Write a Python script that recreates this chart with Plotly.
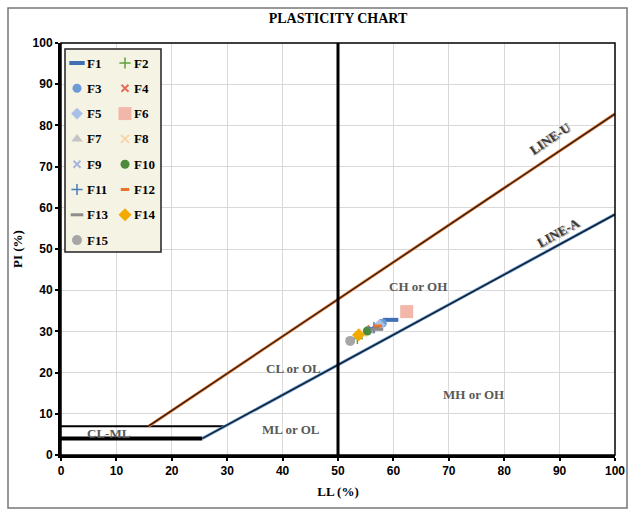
import plotly.graph_objects as go

# ---- data ----
samples = ["F1", "F2", "F3", "F4", "F5", "F6", "F7", "F8", "F9", "F10", "F11", "F12", "F13", "F14", "F15"]
ll_values = [59.5, 53.5, 58.0, 56.0, 57.5, 62.4, 57.3, 54.5, 55.8, 55.3, 56.5, 57.2, 57.0, 53.7, 52.2]
pi_values = [32.8, 28.3, 32.0, 30.6, 31.6, 34.8, 31.0, 29.7, 30.4, 30.1, 30.9, 31.3, 30.5, 29.1, 27.7]

line_u_ll = [15.8, 100]
line_u_pi = [7, 82.8]
line_a_ll = [25.5, 100]
line_a_pi = [4, 58.4]
pi7_ll = [0, 29.6]
pi7_pi = [7, 7]
pi4_ll = [0, 25.5]
pi4_pi = [4, 4]
ll50_ll = [50, 50]
ll50_pi = [0, 100]

x_ticks = [0, 10, 20, 30, 40, 50, 60, 70, 80, 90, 100]
y_ticks = [0, 10, 20, 30, 40, 50, 60, 70, 80, 90, 100]

zone_labels = ["CH or OH", "CL or OL", "MH or OH", "ML or OL", "CL-ML"]
zone_ll = [64.4, 41.9, 74.5, 41.5, 8.7]
zone_pi = [40.8, 21.1, 14.8, 6.1, 5.3]

# ---- styles ----
styles = {
    "F1": dict(symbol="line-ew", color="#3F6FB5", size=11, lw=4),
    "F2": dict(symbol="cross-thin", color="#5FA03A", size=8, lw=1.5),
    "F3": dict(symbol="circle", color="#6C9BD6", size=9, lw=0),
    "F4": dict(symbol="x-thin", color="#E56E5A", size=7, lw=2),
    "F5": dict(symbol="diamond", color="#A9C0E8", size=9, lw=0),
    "F6": dict(symbol="square", color="#F2B7A8", size=13, lw=0),
    "F7": dict(symbol="triangle-up", color="#C4C4C4", size=10, lw=0),
    "F8": dict(symbol="x-thin", color="#F9D4A6", size=8, lw=2),
    "F9": dict(symbol="x-thin", color="#A7B6DE", size=7, lw=2),
    "F10": dict(symbol="circle", color="#4B8B3B", size=9, lw=0),
    "F11": dict(symbol="cross-thin", color="#4A7EBB", size=8, lw=1.5),
    "F12": dict(symbol="line-ew", color="#E8742C", size=6, lw=3),
    "F13": dict(symbol="line-ew", color="#8C8C8C", size=9, lw=3),
    "F14": dict(symbol="diamond", color="#F2A900", size=10, lw=0),
    "F15": dict(symbol="circle", color="#A6A6A6", size=10, lw=0),
}


def make_marker(s):
    m = dict(symbol=s["symbol"], size=s["size"], color=s["color"])
    m["line"] = dict(color=s["color"], width=s["lw"]) if s["lw"] else dict(width=0)
    return m


plot_l, plot_r, plot_t, plot_b = 61, 615, 43, 455


def px_to_ll(px):
    return (px - plot_l) / (plot_r - plot_l) * 100


def py_to_pi(py):
    return (plot_b - py) / (plot_b - plot_t) * 100


fig = go.Figure()

# reference lines
fig.add_trace(go.Scatter(x=pi7_ll, y=pi7_pi, mode="lines", line=dict(color="black", width=2),
                         showlegend=False, hoverinfo="skip"))
fig.add_trace(go.Scatter(x=pi4_ll, y=pi4_pi, mode="lines", line=dict(color="black", width=4),
                         showlegend=False, hoverinfo="skip"))
fig.add_trace(go.Scatter(x=line_u_ll, y=line_u_pi, mode="lines", line=dict(color="#E8803F", width=3),
                         showlegend=False, hoverinfo="skip"))
fig.add_trace(go.Scatter(x=line_u_ll, y=line_u_pi, mode="lines", line=dict(color="#2a1a10", width=1.3),
                         showlegend=False, hoverinfo="skip"))
fig.add_trace(go.Scatter(x=line_a_ll, y=line_a_pi, mode="lines", line=dict(color="#5B8FCC", width=3),
                         showlegend=False, hoverinfo="skip"))
fig.add_trace(go.Scatter(x=line_a_ll, y=line_a_pi, mode="lines", line=dict(color="#101820", width=1.3),
                         showlegend=False, hoverinfo="skip"))
fig.add_trace(go.Scatter(x=ll50_ll, y=ll50_pi, mode="lines", line=dict(color="black", width=3),
                         showlegend=False, hoverinfo="skip"))

# sample points
for name, x, y in zip(samples, ll_values, pi_values):
    fig.add_trace(go.Scatter(x=[x], y=[y], mode="markers", name=name,
                             marker=make_marker(styles[name]), showlegend=False))

# ---- two-column legend (positions given in screen pixels, converted to axis units) ----
leg_box = dict(x0=65, x1=161, y0=49, y1=252)
col_marker_x = [77, 125]
col_text_x = [85, 132]
row_y0, row_step = 63, 25.3

fig.add_shape(type="rect", xref="x", yref="y",
              x0=px_to_ll(leg_box["x0"]), x1=px_to_ll(leg_box["x1"]),
              y0=py_to_pi(leg_box["y1"]), y1=py_to_pi(leg_box["y0"]),
              fillcolor="#F5F3E4", line=dict(color="#222222", width=1.5), layer="between")

for i, name in enumerate(samples):
    col, row = i % 2, i // 2
    y = row_y0 + row * row_step
    fig.add_trace(go.Scatter(x=[px_to_ll(col_marker_x[col])], y=[py_to_pi(y)], mode="markers",
                             marker=make_marker(styles[name]), showlegend=False, hoverinfo="skip",
                             cliponaxis=False))
    fig.add_annotation(x=px_to_ll(col_text_x[col]), y=py_to_pi(y), text="<b>" + name + "</b>",
                       showarrow=False, xanchor="left", yanchor="middle",
                       font=dict(family="Liberation Serif", size=13, color="black"))

label_font = dict(family="Liberation Serif", size=13, color="#595959")
for t, x, y in zip(zone_labels, zone_ll, zone_pi):
    fig.add_annotation(x=x, y=y, text="<b>" + t + "</b>", showarrow=False, font=label_font)

fig.add_annotation(x=88.3, y=76.8, text="<b>LINE-U</b>", showarrow=False, textangle=-34,
                   font=dict(family="Liberation Serif", size=13, color="#3a3a3a",
                             shadow="1px 1px 1px #888"))
fig.add_annotation(x=89.8, y=54.1, text="<b>LINE-A</b>", showarrow=False, textangle=-29,
                   font=dict(family="Liberation Serif", size=13, color="#3a3a3a",
                             shadow="1px 1px 1px #888"))

# plot border
fig.add_shape(type="rect", xref="paper", yref="paper", x0=0, x1=1, y0=0, y1=1,
              line=dict(color="black", width=1.5))
# outer frame
fig.add_shape(type="rect", xref="paper", yref="paper",
              x0=(8 - plot_l) / (plot_r - plot_l), x1=(627 - plot_l) / (plot_r - plot_l),
              y0=(plot_b - 508) / (plot_b - plot_t), y1=(plot_b - 8) / (plot_b - plot_t),
              line=dict(color="#777777", width=1.5))

fig.update_layout(
    width=630, height=514,
    margin=dict(l=plot_l, r=630 - plot_r, t=plot_t, b=514 - plot_b),
    paper_bgcolor="white", plot_bgcolor="white",
    showlegend=False,
    title=dict(text="<b>PLASTICITY CHART</b>", x=0.5, xref="paper", y=1 - 18 / 514,
               yref="container", yanchor="middle", xanchor="center",
               font=dict(family="Liberation Serif", size=14, color="black")),
    xaxis=dict(range=[0, 100], tickvals=x_ticks, showgrid=True, gridcolor="#D9D9D9", gridwidth=1,
               zeroline=False, showline=True, linecolor="black", linewidth=3, automargin=False,
               ticks="outside", ticklen=3, tickwidth=2, tickcolor="black",
               tickfont=dict(family="Liberation Sans", size=12, color="black", weight="bold"),
               title=dict(text="<b>LL (%)</b>", standoff=10,
                          font=dict(family="Liberation Serif", size=13, color="black"))),
    yaxis=dict(range=[0, 100], tickvals=y_ticks, showgrid=True, gridcolor="#D9D9D9", gridwidth=1,
               zeroline=False, showline=True, linecolor="black", linewidth=3, automargin=False,
               ticks="outside", ticklen=3, tickwidth=2, tickcolor="black",
               tickfont=dict(family="Liberation Sans", size=12, color="black", weight="bold"),
               title=dict(text="<b>PI (%)</b>", standoff=8,
                          font=dict(family="Liberation Serif", size=13, color="black"))),
)

fig.write_html("out.html")
